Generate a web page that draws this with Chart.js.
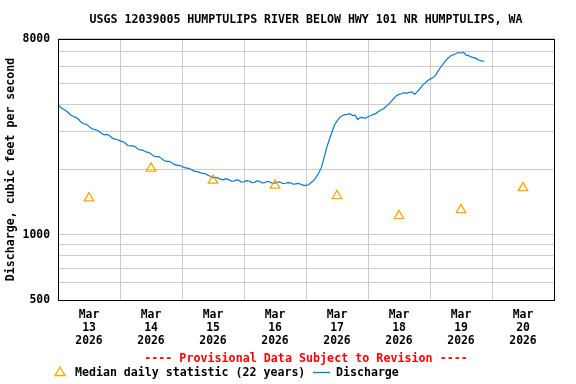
<!DOCTYPE html>
<html>
<head>
<meta charset="utf-8">
<script src="https://cdn.jsdelivr.net/npm/chart.js@4/dist/chart.umd.min.js"></script>
<style>
  html, body { margin: 0; padding: 0; background: #ffffff; }
  #wrap { width: 576px; height: 384px; }
</style>
</head>
<body>
<div id="wrap"><canvas id="flowChart"></canvas></div>
<script>

// ==========================
// DATA
// ==========================

const dayLabels = [
    ["Mar", "13", "2026"],
    ["Mar", "14", "2026"],
    ["Mar", "15", "2026"],
    ["Mar", "16", "2026"],
    ["Mar", "17", "2026"],
    ["Mar", "18", "2026"],
    ["Mar", "19", "2026"],
    ["Mar", "20", "2026"]
];

// hourly readings, first one at Mar 13 00:00
const flowStartHour = 0;
const flowStepHours = 1;

// discharge, cubic feet per second
const flowValues = [
    3980, 3870, 3790, 3740, 3650, 3560, 3510, 3470, 3400, 3300,
    3250, 3230, 3160, 3090, 3060, 3040, 2990, 2920, 2890, 2900,
    2860, 2790, 2760, 2750, 2710, 2690, 2650, 2580, 2570, 2570,
    2540, 2480, 2460, 2450, 2410, 2400, 2360, 2310, 2290, 2290,
    2250, 2200, 2180, 2180, 2150, 2110, 2090, 2090, 2065, 2040,
    2030, 2020, 1985, 1960, 1955, 1935, 1920, 1915, 1880, 1860,
    1835, 1840, 1825, 1800, 1790, 1815, 1795, 1770, 1765, 1790,
    1780, 1750, 1755, 1775, 1770, 1740, 1745, 1770, 1765, 1735,
    1740, 1760, 1755, 1725, 1730, 1750, 1750, 1720, 1728, 1740,
    1735, 1710, 1715, 1725, 1710, 1690, 1690, 1700, 1740, 1780,
    1850, 1930, 2050, 2260, 2520, 2740, 2960, 3200, 3340, 3470,
    3540, 3580, 3590, 3620, 3545, 3560, 3400, 3480, 3470, 3440,
    3500, 3540, 3590, 3620, 3700, 3760, 3810, 3900, 4000, 4120,
    4250, 4380, 4440, 4470, 4520, 4490, 4540, 4560, 4440, 4560,
    4700, 4870, 5000, 5120, 5220, 5300, 5400, 5650, 5890, 6100,
    6330, 6520, 6680, 6760, 6830, 6920, 6890, 6930, 6730, 6700,
    6590, 6560, 6490, 6380, 6340, 6310
];

// median daily statistic (22 years), one per day, at noon
const medianValues = [
    1475, 2022, 1780, 1688, 1512, 1222, 1302, 1646
];

const yGridValues = [
    500, 600, 700, 800, 900,
    1000, 2000, 3000, 4000, 5000, 6000, 7000, 8000
];

const yTickLabels = [500, 1000, 8000];



// ==========================
// STYLE
// ==========================

const monoFont = "'DejaVu Sans Mono', 'Liberation Mono', monospace";
const lineColor = "#0a78cc";
const medianColor = "#ffa500";
const gridColor = "#cccccc";



// ==========================
// FRAME + BOTTOM TEXT PLUGIN
// ==========================

const framePlugin = {

    id: "frameAndLegend",

    afterDraw(chart) {

        const ctx = chart.ctx;
        const area = chart.chartArea;

        ctx.save();

        // black box round the plot
        ctx.strokeStyle = "#000000";
        ctx.lineWidth = 1;
        ctx.strokeRect(
            Math.round(area.left) + 0.5,
            Math.round(area.top) + 0.5,
            Math.round(area.right - area.left),
            Math.round(area.bottom - area.top));

        // provisional note
        ctx.font = "bold 11.7px " + monoFont;
        ctx.fillStyle = "#ff0000";
        ctx.textAlign = "center";
        ctx.textBaseline = "middle";
        ctx.fillText(
            "---- Provisional Data Subject to Revision ----",
            (area.left + area.right) / 2,
            area.bottom + 59);

        // legend
        const ly = area.bottom + 72.5;

        ctx.strokeStyle = medianColor;
        ctx.lineWidth = 1.3;
        ctx.beginPath();
        ctx.moveTo(60, ly - 5.5);
        ctx.lineTo(65, ly + 3);
        ctx.lineTo(55, ly + 3);
        ctx.closePath();
        ctx.stroke();

        ctx.font = "bold 11.6px " + monoFont;
        ctx.fillStyle = "#000000";
        ctx.textAlign = "left";
        ctx.fillText(
            chart.data.datasets[0].label,
            75,
            ly);

        ctx.strokeStyle = lineColor;
        ctx.lineWidth = 1.3;
        ctx.beginPath();
        ctx.moveTo(313, ly);
        ctx.lineTo(330, ly);
        ctx.stroke();

        ctx.fillText(
            chart.data.datasets[1].label,
            336,
            ly);

        ctx.restore();
    }
};



// ==========================
// CHART
// ==========================

const flowCtx =
document.getElementById(
    "flowChart");

if (flowCtx) {

    new Chart(flowCtx, {

        type: "line",

        data: {

            datasets: [{

                label: "Median daily statistic (22 years)",

                data: medianValues.map((v, i) => ({
                    x: i * 24 + 12,
                    y: v
                })),

                showLine: false,
                pointStyle: "triangle",
                pointRadius: 5.5,
                pointBorderColor: medianColor,
                pointBackgroundColor: "rgba(0,0,0,0)",
                pointBorderWidth: 1.3,
                xAxisID: "x",
                yAxisID: "y",
                order: 1
            }, {

                label: "Discharge",

                data: flowValues.map((v, i) => ({
                    x: flowStartHour + i * flowStepHours,
                    y: v
                })),

                borderColor: lineColor,
                backgroundColor: lineColor,
                borderWidth: 1.2,
                pointRadius: 0,
                tension: 0,
                fill: false,
                xAxisID: "x",
                yAxisID: "y",
                order: 2
            }]
        },

        options: {

            responsive: true,
            maintainAspectRatio: false,
            animation: false,

            layout: {
                padding: {
                    top: 0,
                    right: 22,
                    bottom: 0,
                    left: 0
                }
            },

            plugins: {

                legend: {
                    display: false
                },

                tooltip: {
                    enabled: false
                },

                title: {
                    display: true,
                    fullSize: false,
                    text: "USGS 12039005 HUMPTULIPS RIVER BELOW HWY 101 NR HUMPTULIPS, WA",
                    color: "#000000",
                    font: {
                        family: monoFont,
                        size: 11.6,
                        weight: "bold",
                        lineHeight: 1.2
                    },
                    padding: {
                        top: 13,
                        bottom: 12
                    }
                }
            },

            scales: {

                x: {
                    type: "linear",
                    min: 0,
                    max: dayLabels.length * 24,
                    display: false
                },

                xDays: {
                    type: "category",
                    labels: dayLabels,
                    position: "bottom",
                    offset: true,
                    grid: {
                        offset: true,
                        color: gridColor,
                        lineWidth: 1,
                        drawTicks: false
                    },
                    border: {
                        display: false
                    },
                    ticks: {
                        color: "#000000",
                        padding: 9,
                        maxRotation: 0,
                        autoSkip: false,
                        font: {
                            family: monoFont,
                            size: 11.4,
                            weight: "bold",
                            lineHeight: 1.14
                        }
                    },
                    afterFit(scale) {
                        scale.height = 84;
                    }
                },

                y: {
                    type: "logarithmic",
                    min: 500,
                    max: 8000,
                    grid: {
                        color: gridColor,
                        lineWidth: 1,
                        drawTicks: false
                    },
                    border: {
                        display: false
                    },
                    afterBuildTicks(scale) {
                        scale.ticks =
                            yGridValues.map(v => ({ value: v }));
                    },
                    ticks: {
                        autoSkip: false,
                        color: "#000000",
                        padding: 8,
                        font: {
                            family: monoFont,
                            size: 11.4,
                            weight: "bold"
                        },
                        callback: function (value) {
                            return yTickLabels.includes(value)
                                ? String(value)
                                : "";
                        }
                    },
                    title: {
                        display: true,
                        text: "Discharge, cubic feet per second",
                        color: "#000000",
                        font: {
                            family: monoFont,
                            size: 11.6,
                            weight: "bold",
                            lineHeight: 1.2
                        },
                        padding: {
                            top: 4,
                            bottom: 0
                        }
                    },
                    afterFit(scale) {
                        scale.width = 58;
                    }
                }
            }
        },

        plugins: [framePlugin]
    });
}

</script>
</body>
</html>
